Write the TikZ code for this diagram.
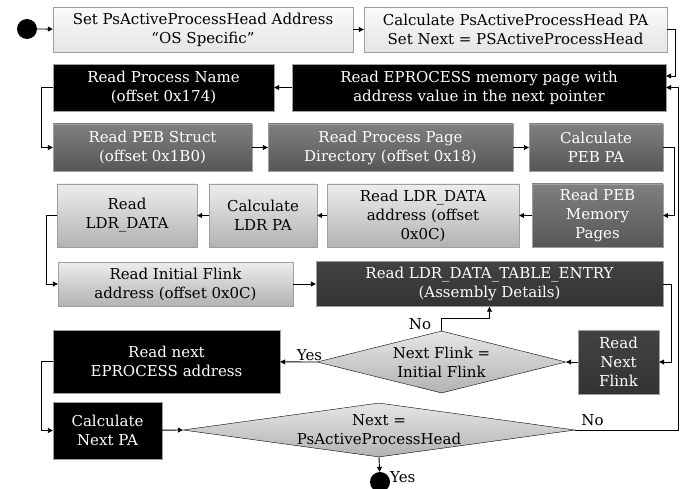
\documentclass[tikz,border=0pt]{standalone}
\usepackage{fontspec}
\setmainfont{DejaVu Serif}
\usetikzlibrary{arrows.meta,positioning,shapes.geometric}

\begin{document}
\begin{tikzpicture}[
    x=1pt, y=-1pt,
    every node/.style={font=\fontsize{15}{19}\selectfont},
    box/.style={draw=gray!75, rectangle, align=center, inner sep=2pt},
    paleBox/.style={box, top color=black!2, bottom color=black!10, text=black},
    blackBox/.style={box, fill=black, text=white},
    midBox/.style={box, top color=black!50, bottom color=black!66, text=white},
    lightBox/.style={box, top color=black!7, bottom color=black!30, text=black},
    darkBox/.style={box, top color=black!74, bottom color=black!80, text=white},
    decision/.style={draw, diamond, top color=black!10, bottom color=black!30, inner sep=0pt},
    terminal/.style={circle, fill=black, minimum size=20pt, inner sep=0pt},
    arr/.style={-{Triangle[length=5pt,width=5pt]}, line width=0.9pt},
    lbl/.style={inner sep=1pt},
  ]
  \useasboundingbox (0,0) rectangle (682,489);

  % Start and first row
  \node[terminal] (start) at (27,29) {};
  \node[paleBox, minimum width=300pt, minimum height=45pt] (setHead) at (203,29.5)
    {Set PsActiveProcessHead Address\\“OS Specific”};
  \node[paleBox, minimum width=303pt, minimum height=45pt] (calcHead) at (515.5,29.5)
    {Calculate PsActiveProcessHead PA\\Set Next = PSActiveProcessHead};

  % EPROCESS row
  \node[blackBox, minimum width=374pt, minimum height=47pt] (readEproc) at (479,87.5)
    {Read EPROCESS memory page with\\address value in the next pointer};
  \node[blackBox, minimum width=221pt, minimum height=47pt] (procName) at (163.5,87.5)
    {Read Process Name\\(offset 0x174)};

  % PEB row
  \node[midBox, minimum width=199pt, minimum height=47pt] (pebStruct) at (152.5,147.5)
    {Read PEB Struct\\(offset 0x1B0)};
  \node[midBox, minimum width=245pt, minimum height=47pt] (pageDir) at (390.5,147.5)
    {Read Process Page\\Directory (offset 0x18)};
  \node[midBox, minimum width=134pt, minimum height=47pt] (calcPeb) at (596,147.5)
    {Calculate\\PEB PA};

  % LDR row
  \node[midBox, minimum width=131pt, minimum height=63pt] (pebPages) at (597.5,215.5)
    {Read PEB\\Memory\\Pages};
  \node[lightBox, minimum width=192pt, minimum height=63pt] (ldrAddr) at (423,215.5)
    {Read LDR\_DATA\\address (offset\\0x0C)};
  \node[lightBox, minimum width=108pt, minimum height=63pt] (calcLdr) at (263,215.5)
    {Calculate\\LDR PA};
  \node[lightBox, minimum width=140pt, minimum height=63pt] (readLdr) at (127,215.5)
    {Read\\LDR\_DATA};

  % Flink row
  \node[lightBox, minimum width=235pt, minimum height=44pt] (initFlink) at (175.5,284)
    {Read Initial Flink\\address (offset 0x0C)};
  \node[darkBox, minimum width=347pt, minimum height=45pt] (tableEntry) at (489.5,284)
    {Read LDR\_DATA\_TABLE\_ENTRY\\(Assembly Details)};

  % Decisions
  \node[darkBox, minimum width=81pt, minimum height=64pt] (nextFlink) at (618.5,362)
    {Read\\Next\\Flink};
  \node[decision, minimum width=249pt, minimum height=62pt,
    label={[align=center]center:Next Flink =\\Initial Flink}] (flinkCheck) at (441.5,362) {};
  \node[blackBox, minimum width=227pt, minimum height=63pt] (nextEproc) at (166.5,361.5)
    {Read next\\EPROCESS address};
  \node[blackBox, minimum width=109pt, minimum height=57pt] (calcNext) at (107.5,430.5)
    {Calculate\\Next PA};
  \node[decision, minimum width=392pt, minimum height=54pt,
    label={[align=center]center:Next =\\PsActiveProcessHead}] (headCheck) at (379,430) {};
  \node[terminal] (stop) at (380,482) {};

  % Connectors
  \draw[arr] (start) -- (setHead);
  \draw[arr] (setHead) -- (calcHead);
  \draw[arr] (calcHead.east) -- ++(8,0) |- ([yshift=11.5pt]readEproc.east);
  \draw[arr] (readEproc) -- (procName);
  \draw[arr] (procName.west) -- ++(-11,0) |- (pebStruct.west);
  \draw[arr] (pebStruct) -- (pageDir);
  \draw[arr] (pageDir) -- (calcPeb);
  \draw[arr] (calcPeb.east) -- ++(11,0) |- (pebPages.east);
  \draw[arr] (pebPages) -- (ldrAddr);
  \draw[arr] (ldrAddr) -- (calcLdr);
  \draw[arr] (calcLdr) -- (readLdr);
  \draw[arr] (readLdr.west) -- ++(-10,0) |- (initFlink.west);
  \draw[arr] (initFlink) -- (tableEntry);
  \draw[arr] (tableEntry.east) -- ++(8,0) |- (nextFlink.east);
  \draw[arr] (nextFlink) -- (flinkCheck.east);
  \draw[arr] (flinkCheck.north) -- ++(0,-12) node[lbl, left=9pt, yshift=-5pt] {No}
    -| (tableEntry.south);
  \draw[arr] (flinkCheck.west) -- node[lbl, above, pos=0.2] {Yes} (nextEproc);
  \draw[arr] (nextEproc.west) -- ++(-11,0) |- (calcNext.west);
  \draw[arr] (calcNext) -- (headCheck.west);
  \draw[arr] (headCheck.east) -| ([xshift=12pt]readEproc.east) -- (readEproc.east);
  \node[lbl, above right=3pt and 5pt of headCheck.east] {No};
  \draw[arr] (headCheck.south) -- (stop);
  \node[lbl, right=10pt, yshift=-5pt] at (headCheck.south |- stop.north) {Yes};
\end{tikzpicture}
\end{document}
